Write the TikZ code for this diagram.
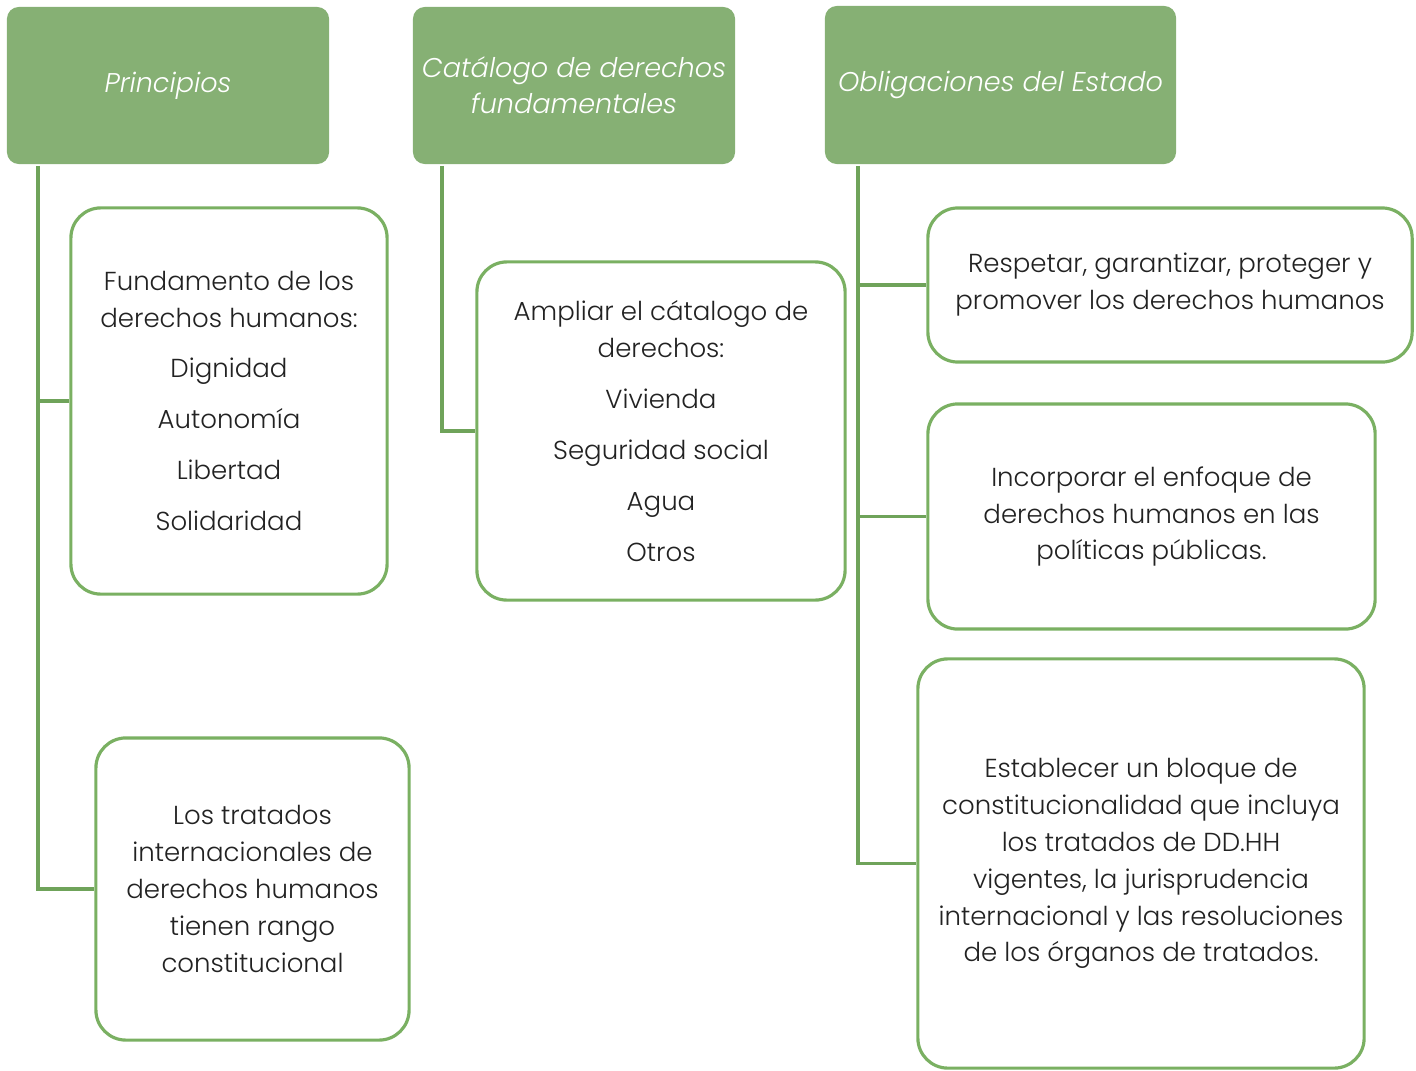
\documentclass[tikz,border=0pt]{standalone}
\usepackage{fontspec}
\setmainfont{Poppins}[UprightFont=* Light, ItalicFont=* Light Italic]
\definecolor{headgreen}{HTML}{86B074}
\definecolor{edgegreen}{HTML}{7AB062}
\definecolor{linegreen}{HTML}{6FA35A}
\definecolor{bodytext}{HTML}{222222}
\begin{document}
\begin{tikzpicture}[x=0.01cm,y=-0.01cm,
    head/.style={fill=headgreen,rounded corners=0.12cm,text=white,align=center,
      inner sep=1pt,font=\fontsize{7.7}{10.3}\selectfont\itshape},
    item/.style={draw=edgegreen,line width=0.9pt,rounded corners=0.3cm,fill=white,
      inner sep=1pt,text=bodytext,align=center,font=\fontsize{7.4}{10.5}\selectfont},
    link/.style={draw=linegreen,line width=0.9pt}]
  \useasboundingbox (0,0) rectangle (1416,1070);

  % Headers
  \node[head,minimum width=3.22cm,minimum height=1.57cm] (hPrin) at (168,85.5) {Principios};
  \node[head,minimum width=3.22cm,minimum height=1.57cm] (hCat) at (574,85.5)
    {Catálogo de derechos\\fundamentales};
  \node[head,minimum width=3.51cm,minimum height=1.58cm] (hObl) at (1000.5,85)
    {Obligaciones del Estado};

  % Principios
  \node[item,minimum width=3.16cm,minimum height=3.86cm] (fund) at (229,401)
    {Fundamento de los\\derechos humanos:\\[0.13cm]Dignidad\\[0.14cm]Autonomía\\[0.14cm]Libertad\\[0.14cm]Solidaridad};
  \node[item,minimum width=3.13cm,minimum height=3.02cm] (trat) at (252.5,889)
    {Los tratados\\internacionales de\\derechos humanos\\tienen rango\\constitucional};

  % Catalogo
  \node[item,minimum width=3.68cm,minimum height=3.38cm] (ampl) at (661,431)
    {Ampliar el cátalogo de\\derechos:\\[0.14cm]Vivienda\\[0.14cm]Seguridad social\\[0.14cm]Agua\\[0.14cm]Otros};

  % Obligaciones
  \node[item,minimum width=4.84cm,minimum height=1.54cm] (resp) at (1170,285)
    {Respetar, garantizar, proteger y\\promover los derechos humanos};
  \node[item,minimum width=4.47cm,minimum height=2.25cm] (enfo) at (1151.5,516.5)
    {Incorporar el enfoque de\\derechos humanos en las\\políticas públicas.};
  \node[item,minimum width=4.46cm,minimum height=4.09cm] (bloq) at (1141,863.5)
    {Establecer un bloque de\\constitucionalidad que incluya\\los tratados de DD.HH\\vigentes, la jurisprudencia\\internacional y las resoluciones\\de los órganos de tratados.};

  % Connectors
  \coordinate (tPrin) at (38,166);
  \coordinate (tCat) at (442,166);
  \coordinate (tObl) at (858,166);
  \draw[link] (tPrin) |- (trat.west);
  \draw[link] (tPrin |- fund.west) -- (fund.west);
  \draw[link] (tCat) |- (ampl.west);
  \draw[link] (tObl) |- (bloq.west);
  \draw[link] (tObl |- resp.west) -- (resp.west);
  \draw[link] (tObl |- enfo.west) -- (enfo.west);
\end{tikzpicture}
\end{document}
